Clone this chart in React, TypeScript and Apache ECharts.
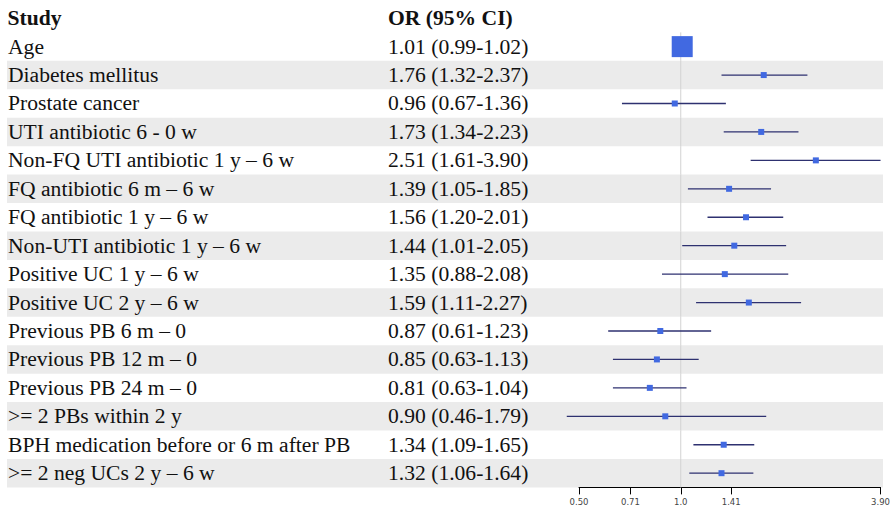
import React, { useEffect, useRef } from "react";
import * as echarts from "echarts";

const studies = [
  "Age",
  "Diabetes mellitus",
  "Prostate cancer",
  "UTI antibiotic 6 - 0 w",
  "Non-FQ UTI antibiotic 1 y – 6 w",
  "FQ antibiotic 6 m – 6 w",
  "FQ antibiotic 1 y – 6 w",
  "Non-UTI antibiotic 1 y – 6 w",
  "Positive UC 1 y – 6 w",
  "Positive UC 2 y – 6 w",
  "Previous PB 6 m – 0",
  "Previous PB 12 m – 0",
  "Previous PB 24 m – 0",
  ">= 2 PBs within 2 y",
  "BPH medication before or 6 m after PB",
  ">= 2 neg UCs 2 y – 6 w",
];
const oddsRatio = [1.01, 1.76, 0.96, 1.73, 2.51, 1.39, 1.56, 1.44, 1.35, 1.59, 0.87, 0.85, 0.81, 0.9, 1.34, 1.32];
const ciLower = [0.99, 1.32, 0.67, 1.34, 1.61, 1.05, 1.2, 1.01, 0.88, 1.11, 0.61, 0.63, 0.63, 0.46, 1.09, 1.06];
const ciUpper = [1.02, 2.37, 1.36, 2.23, 3.9, 1.85, 2.01, 2.05, 2.08, 2.27, 1.23, 1.13, 1.04, 1.79, 1.65, 1.64];
const tickValues = [0.5, 0.71, 1.0, 1.41, 3.9];
const tickLabels = ["0.50", "0.71", "1.0", "1.41", "3.90"];
const headers = ["Study", "OR (95% CI)"];
const nullEffect = 1.0;

const lg = (v: number) => Math.log2(v);
const orLabels = oddsRatio.map(
  (o, i) => `${o.toFixed(2)} (${ciLower[i].toFixed(2)}-${ciUpper[i].toFixed(2)})`
);

const SERIF = "Liberation Serif";
const FS = 21.6;
const TOP = 32.4;
const ROWS_H = 455;

export default function App() {
  const ref = useRef<HTMLDivElement>(null);
  useEffect(() => {
    if (!ref.current) return;
    const chart = echarts.init(ref.current, undefined, { renderer: "svg" });
    const tickLog = tickValues.map(lg);
    const boxSize = (i: number) => {
      const se = (Math.log(ciUpper[i]) - Math.log(ciLower[i])) / 3.92;
      return Math.min(21, Math.max(6, 0.16 / se));
    };
    const textLabel = (margin: number) => ({
      inside: true,
      interval: 0,
      align: "left",
      margin,
      fontSize: FS,
      fontFamily: SERIF,
      color: "#111",
    });
    chart.setOption({
      animation: false,
      backgroundColor: "#ffffff",
      grid: [
        { left: 7, top: TOP, width: 876, height: ROWS_H },
        { left: 579, top: TOP, width: 302.5, height: ROWS_H },
      ],
      xAxis: [
        { type: "value", gridIndex: 0, show: false, min: 0, max: 1 },
        {
          type: "value",
          gridIndex: 1,
          min: lg(0.5),
          max: lg(3.9),
          position: "bottom",
          axisLine: { show: true, onZero: false, lineStyle: { color: "#000", width: 1 } },
          axisTick: { show: true, customValues: tickLog, length: 7, lineStyle: { color: "#000", width: 1 } },
          axisLabel: {
            customValues: tickLog,
            margin: 10,
            fontSize: 8.5,
            fontFamily: "DejaVu Sans",
            color: "#444",
            formatter: (v: number) => {
              let best = 0;
              tickLog.forEach((t, k) => {
                if (Math.abs(t - v) < Math.abs(tickLog[best] - v)) best = k;
              });
              return tickLabels[best];
            },
          },
          splitLine: { show: false },
        },
      ],
      yAxis: [
        {
          type: "category",
          gridIndex: 0,
          position: "left",
          inverse: true,
          data: studies,
          axisLine: { show: false },
          axisTick: { show: false, interval: 0 },
          splitArea: { show: true, interval: 0, areaStyle: { color: ["rgba(0,0,0,0)", "#ebebeb"] } },
          axisLabel: textLabel(1),
        },
        {
          type: "category",
          gridIndex: 0,
          position: "left",
          offset: 0,
          inverse: true,
          data: orLabels,
          axisLine: { show: false },
          axisTick: { show: false },
          splitLine: { show: false },
          axisLabel: textLabel(381),
        },
        {
          type: "category",
          gridIndex: 1,
          position: "left",
          inverse: true,
          data: studies,
          show: false,
        },
      ],
      graphic: [
        {
          type: "text",
          x: 7.5,
          y: 17.5,
          style: {
            text: headers[0],
            fontFamily: SERIF,
            fontSize: FS,
            fontWeight: "bold",
            fill: "#111",
            verticalAlign: "middle",
            align: "left",
          },
        },
        {
          type: "text",
          x: 388,
          y: 17.5,
          style: {
            text: headers[1],
            fontFamily: SERIF,
            fontSize: FS,
            fontWeight: "bold",
            fill: "#111",
            verticalAlign: "middle",
            align: "left",
          },
        },
      ],
      series: [
        {
          type: "custom",
          xAxisIndex: 1,
          yAxisIndex: 2,
          z: 1,
          data: studies.map((_, i) => [lg(nullEffect), i]),
          encode: { x: 0, y: 1 },
          renderItem: (params: any, api: any) => {
            const c = api.coord([api.value(0), api.value(1)]);
            const h = api.size([0, 1])[1];
            return {
              type: "line",
              shape: { x1: c[0], y1: c[1] - h / 2, x2: c[0], y2: c[1] + h / 2 },
              style: { stroke: "#d2d2d2", lineWidth: 1 },
            };
          },
        },
        {
          type: "custom",
          xAxisIndex: 1,
          yAxisIndex: 2,
          z: 2,
          data: studies.map((_, i) => [lg(ciLower[i]), i, lg(ciUpper[i])]),
          encode: { x: 0, y: 1 },
          renderItem: (params: any, api: any) => {
            const p1 = api.coord([api.value(0), api.value(1)]);
            const p2 = api.coord([api.value(2), api.value(1)]);
            return {
              type: "line",
              shape: { x1: p1[0], y1: p1[1], x2: p2[0], y2: p2[1] },
              style: { stroke: "#2e3170", lineWidth: 1.3 },
            };
          },
        },
        {
          type: "scatter",
          xAxisIndex: 1,
          yAxisIndex: 2,
          z: 3,
          symbol: "rect",
          data: studies.map((_, i) => [lg(oddsRatio[i]), i]),
          symbolSize: (_v: any, p: any) => boxSize(p.dataIndex),
          itemStyle: { color: "#4169E1", opacity: 1 },
        },
      ],
    });
    return () => chart.dispose();
  }, []);
  return (
    <div
      ref={ref}
      style={{ position: "fixed", left: 0, top: 0, width: 893, height: 516, background: "#fff" }}
    />
  );
}
